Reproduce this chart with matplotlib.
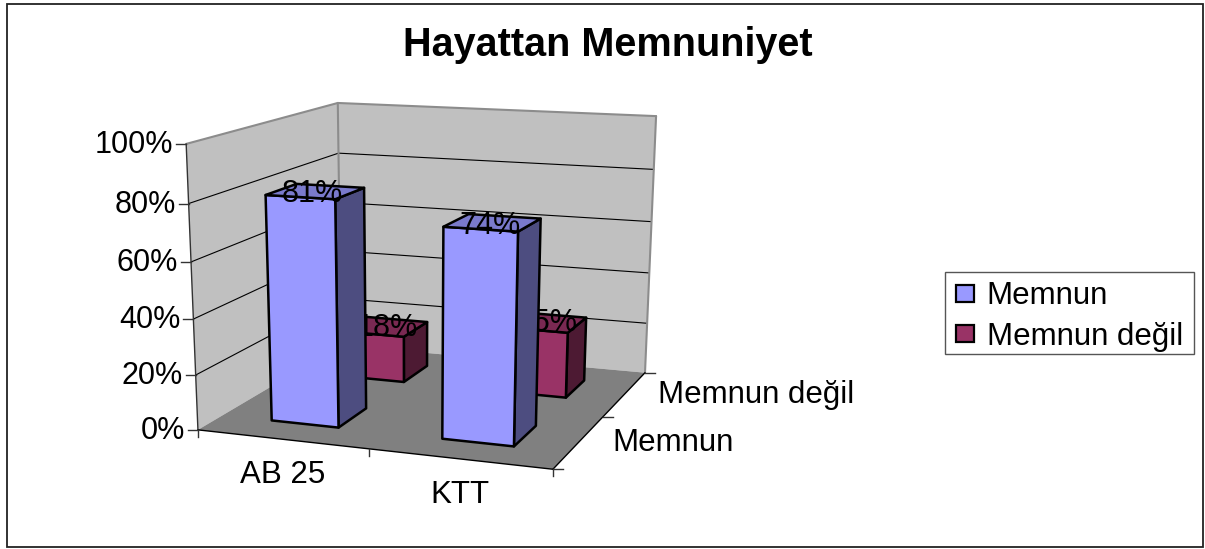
# -*- coding: utf-8 -*-
"""Hayattan Memnuniyet - Excel style 3D column chart, drawn on a pixel axes
through a small camera matrix fitted to the corners of the chart box."""
import numpy as np
import matplotlib
matplotlib.use("Agg")
import matplotlib.pyplot as plt
from matplotlib.patches import Patch, Polygon, Rectangle

plt.rcParams["font.family"] = ["Liberation Sans", "DejaVu Sans"]

TITLE = "Hayattan Memnuniyet"
CATEGORIES = ["AB 25", "KTT"]
SERIES = ["Memnun", "Memnun değil"]
MEMNUN = [0.81, 0.74]
MEMNUN_DEGIL = [0.18, 0.25]
Z_TICKS = [0.0, 0.2, 0.4, 0.6, 0.8, 1.0]

FACE = {"Memnun": ("#9999FF", "#4D4D80", "#7A7ACC"),
        "Memnun değil": ("#993366", "#4D1A33", "#7A2952")}
WALL, FLOOR, EDGE = "#C0C0C0", "#808080", "#8C8C8C"
W, H = 1205, 549
GAP = 0.3  # gap on each side of a column, in category units

# box corners (category, series, share) and where they land in the image
BOX = np.array([[0, 0, 0], [2, 0, 0], [2, 2, 0], [0, 2, 0],
                [0, 0, 1], [0, 2, 1], [2, 2, 1]], dtype=float)
PIX = np.array([[198, 430], [553, 469], [645, 373], [341, 345],
                [186, 144], [338, 103], [656, 116]], dtype=float)

rows, rhs = [], []
for (x, y, z), (u, v) in zip(BOX, PIX):
    rows.append([x, y, z, 1, 0, 0, 0, 0, -u * x, -u * y, -u * z]); rhs.append(u)
    rows.append([0, 0, 0, 0, x, y, z, 1, -v * x, -v * y, -v * z]); rhs.append(v)
CAM = np.append(np.linalg.lstsq(np.array(rows), np.array(rhs), rcond=None)[0], 1).reshape(3, 4)


def project(x, y, z):
    p = CAM @ np.array([x, y, z, 1.0])
    return p[0] / p[2], p[1] / p[2]


def quad(ax, pts, color, zorder, edge="none", lw=0):
    ax.add_patch(Polygon([project(*p) for p in pts], closed=True, facecolor=color,
                         edgecolor=edge, linewidth=lw, joinstyle="round", zorder=zorder))


def seg(ax, a, b, color="black", lw=0.8, zorder=2):
    pa, pb = project(*a), project(*b)
    ax.plot([pa[0], pb[0]], [pa[1], pb[1]], color=color, lw=lw, zorder=zorder,
            solid_capstyle="round")


fig = plt.figure(figsize=(W / 100, H / 100), dpi=100)
ax = fig.add_axes([0, 0, 1, 1])
ax.set_xlim(0, W)
ax.set_ylim(H, 0)
ax.axis("off")

ax.add_patch(Rectangle((7, 4), 1196, 543, fill=False, edgecolor="#222222", lw=1.3, zorder=0))
ax.text(607.5, 45, TITLE, ha="center", va="center", fontsize=28.5, fontweight="bold")

# walls and floor
quad(ax, [(0, 0, 0), (0, 2, 0), (0, 2, 1), (0, 0, 1)], WALL, 1)
quad(ax, [(0, 2, 0), (2, 2, 0), (2, 2, 1), (0, 2, 1)], WALL, 1)
quad(ax, [(0, 0, 0), (2, 0, 0), (2, 2, 0), (0, 2, 0)], FLOOR, 1)
for z in Z_TICKS[1:-1]:
    seg(ax, (0, 0, z), (0, 2, z))
    seg(ax, (0, 2, z), (2, 2, z))
seg(ax, (0, 0, 1), (0, 2, 1), EDGE, 1.5)
seg(ax, (0, 2, 1), (2, 2, 1), EDGE, 1.5)
seg(ax, (0, 2, 0), (0, 2, 1), EDGE, 1.5)
seg(ax, (2, 2, 0), (2, 2, 1), EDGE, 1.5)

# axes lines and ticks
seg(ax, (0, 0, 0), (0, 0, 1), "#333333", 1.0, 3)
seg(ax, (0, 0, 0), (2, 0, 0), "black", 1.0, 3)
seg(ax, (2, 0, 0), (2, 2, 0), "black", 1.0, 3)
for z in Z_TICKS:
    px, py = project(0, 0, z)
    ax.plot([px - 10, px], [py, py], color="#333333", lw=1.0, zorder=3)
    ax.text(px - 13, py + 1, f"{z:.0%}", ha="right", va="center", fontsize=22)
for x in (0, 1, 2):
    px, py = project(x, 0, 0)
    ax.plot([px, px], [py, py + 7], color="#333333", lw=1.0, zorder=3)
for y in (0, 1, 2):
    px, py = project(2, y, 0)
    ax.plot([px, px + 10], [py, py], color="#333333", lw=1.0, zorder=3)
for i, name in enumerate(CATEGORIES):
    px, py = project(i + 0.5, 0, 0)
    ax.text(px + 1, py + 36, name, ha="center", va="center", fontsize=22.5)
for j, name in enumerate(SERIES):
    px, py = project(2, j + 0.5, 0)
    ax.text(px + 33, py + 1, name, ha="left", va="center", fontsize=22.5)

# columns, back series first so the front ones hide part of its labels
order = 10
for j, values in reversed(list(enumerate([MEMNUN, MEMNUN_DEGIL]))):
    front, side, top = FACE[SERIES[j]]
    for i, v in enumerate(values):
        x0, x1 = i + GAP, i + 1 - GAP
        y0, y1 = j + GAP, j + 1 - GAP
        quad(ax, [(x1, y0, 0), (x1, y1, 0), (x1, y1, v), (x1, y0, v)], side, order, "black", 1.8)
        quad(ax, [(x0, y0, 0), (x1, y0, 0), (x1, y0, v), (x0, y0, v)], front, order, "black", 1.8)
        quad(ax, [(x0, y0, v), (x1, y0, v), (x1, y1, v), (x0, y1, v)], top, order, "black", 1.8)
        px, py = project(i + 0.5, j + 0.5, v)
        dx, dy = (3, 1) if j == 1 else (-3, 3)
        ax.text(px + dx, py + dy, f"{v:.0%}", ha="center", va="center", fontsize=22, zorder=order + 1)
        order += 2

ax.add_patch(Rectangle((945, 272), 249, 82, facecolor="white", edgecolor="#555555", lw=1.0, zorder=49))
handles = [Patch(facecolor=FACE[s][0], edgecolor="black", linewidth=1.6) for s in SERIES]
leg = ax.legend(handles, SERIES, loc="upper left", bbox_to_anchor=(945, 270),
                bbox_transform=ax.transData, fontsize=22.5, frameon=False,
                borderaxespad=0, borderpad=0.36,
                handlelength=0.58, handleheight=0.45, handletextpad=0.39, labelspacing=0.33)
leg.set_zorder(50)

fig.savefig("out.png", dpi=100)
plt.close(fig)
